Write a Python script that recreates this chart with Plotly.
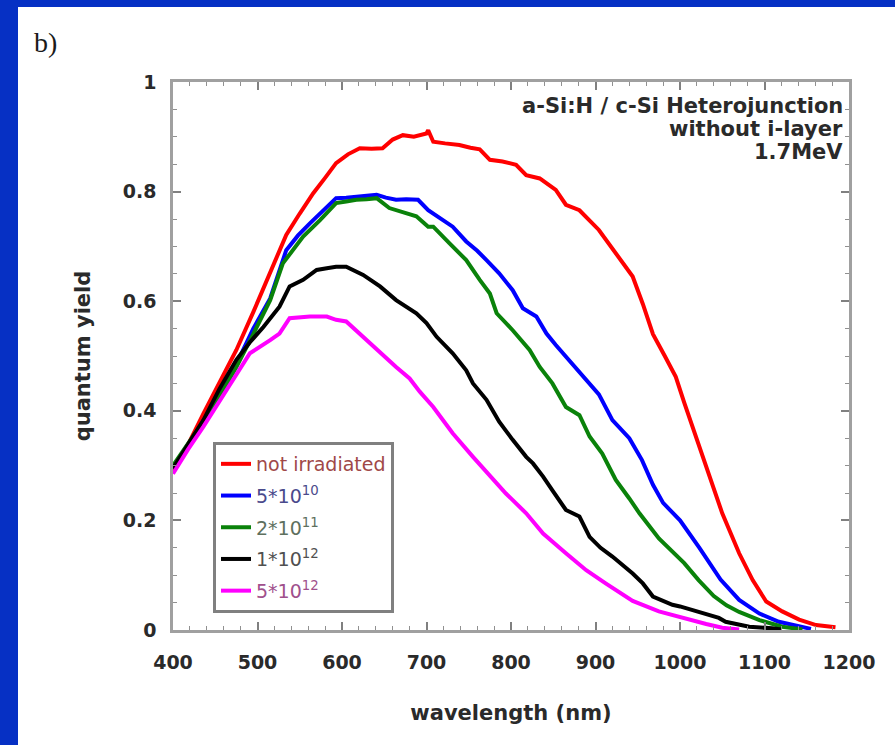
import plotly.graph_objects as go

# ---------------- data ----------------
wl_red = [400, 420, 436, 455, 475, 495, 515, 534, 550, 566, 580, 593, 607, 621, 635, 648, 660, 672, 685, 700,
          702, 708, 722, 739, 752, 763, 775, 790, 806, 818, 834, 853, 865, 881, 904, 924, 944, 956, 968, 982, 995,
          1005, 1015, 1031, 1050, 1070, 1086, 1102, 1121, 1141, 1161, 1184]
q_red = [0.29, 0.345, 0.395, 0.45, 0.511, 0.58, 0.651, 0.721, 0.76, 0.797, 0.825, 0.852, 0.868, 0.879, 0.878,
         0.879, 0.895, 0.903, 0.900, 0.906, 0.912, 0.891, 0.888, 0.885, 0.880, 0.877, 0.858, 0.855, 0.849, 0.830,
         0.824, 0.803, 0.776, 0.766, 0.730, 0.687, 0.645, 0.595, 0.540, 0.500, 0.462, 0.415, 0.371, 0.298, 0.213,
         0.140, 0.091, 0.052, 0.034, 0.019, 0.009, 0.005]

wl_blue = [400, 420, 440, 460, 475, 495, 515, 534, 548, 562, 578, 593, 605, 617, 630, 641, 652, 664, 676, 690,
           702, 708, 720, 731, 747, 760, 771, 786, 802, 814, 830, 842, 853, 865, 885, 904, 920, 940, 955, 968,
           980, 1000, 1023, 1048, 1070, 1094, 1117, 1141, 1155]
q_blue = [0.295, 0.34, 0.385, 0.44, 0.485, 0.55, 0.605, 0.693, 0.72, 0.742, 0.765, 0.788, 0.789, 0.791, 0.792,
          0.794, 0.789, 0.785, 0.786, 0.785, 0.766, 0.760, 0.748, 0.736, 0.709, 0.692, 0.675, 0.651, 0.620, 0.587,
          0.572, 0.541, 0.52, 0.499, 0.465, 0.430, 0.383, 0.350, 0.310, 0.265, 0.232, 0.20, 0.15, 0.092, 0.055,
          0.030, 0.015, 0.006, 0.002]

wl_green = [400, 420, 440, 460, 475, 495, 515, 530, 554, 574, 593, 605, 617, 629, 641, 656, 672, 688, 702, 708,
            727, 747, 763, 775, 783, 802, 822, 834, 849, 865, 881, 893, 908, 924, 940, 952, 975, 990, 1005, 1022,
            1040, 1055, 1070, 1094, 1121, 1145]
q_green = [0.30, 0.345, 0.39, 0.44, 0.48, 0.54, 0.602, 0.669, 0.718, 0.748, 0.779, 0.782, 0.785, 0.786, 0.788,
           0.770, 0.762, 0.755, 0.736, 0.736, 0.706, 0.675, 0.639, 0.614, 0.578, 0.547, 0.511, 0.480, 0.450, 0.407,
           0.392, 0.353, 0.322, 0.274, 0.240, 0.213, 0.167, 0.145, 0.122, 0.091, 0.062, 0.045, 0.033, 0.018, 0.006,
           0.001]

wl_black = [400, 418, 436, 455, 475, 491, 507, 526, 538, 554, 570, 582, 593, 605, 625, 645, 664, 688, 700, 712,
            731, 747, 755, 771, 786, 802, 818, 826, 838, 849, 865, 881, 893, 906, 920, 944, 956, 968, 991, 1000,
            1023, 1046, 1054, 1082, 1109, 1120]
q_black = [0.295, 0.34, 0.383, 0.44, 0.493, 0.525, 0.553, 0.590, 0.627, 0.639, 0.657, 0.660, 0.663, 0.663, 0.648,
           0.627, 0.602, 0.578, 0.560, 0.535, 0.505, 0.474, 0.450, 0.420, 0.380, 0.347, 0.316, 0.304, 0.280, 0.255,
           0.219, 0.207, 0.170, 0.150, 0.134, 0.103, 0.085, 0.061, 0.046, 0.043, 0.033, 0.022, 0.015, 0.006, 0.003,
           0.001]

wl_magenta = [400, 418, 436, 452, 467, 491, 515, 526, 538, 550, 562, 582, 593, 605, 625, 641, 664, 680, 692, 708,
              731, 755, 779, 794, 818, 838, 865, 889, 912, 944, 975, 1007, 1031, 1050, 1070]
q_magenta = [0.285, 0.33, 0.371, 0.41, 0.444, 0.505, 0.529, 0.541, 0.569, 0.571, 0.572, 0.572, 0.566, 0.563, 0.535,
             0.511, 0.480, 0.459, 0.435, 0.407, 0.359, 0.316, 0.274, 0.249, 0.213, 0.176, 0.140, 0.109, 0.085, 0.053,
             0.034, 0.020, 0.011, 0.004, 0.001]

series_names = ["not irradiated", "5*10<sup>10</sup>", "2*10<sup>11</sup>", "1*10<sup>12</sup>", "5*10<sup>12</sup>"]
x_ticks = [400, 500, 600, 700, 800, 900, 1000, 1100, 1200]
y_ticks = [0, 0.2, 0.4, 0.6, 0.8, 1]
y_tick_text = ["0", "0.2", "0.4", "0.6", "0.8", "1"]
note_lines = ["a-Si:H / c-Si Heterojunction", "without i-layer", "1.7MeV"]

# ---------------- styling ----------------
W, H = 895, 745
ML, MR, MT, MB = 173, 46, 82, 115
PW, PH = W - ML - MR, H - MT - MB

def px_x(p):
    return (p - ML) / PW

def px_y(p):
    return (H - MB - p) / PH

line_colors = ["#ff0000", "#0000ff", "#0a820a", "#000000", "#ff00ff"]
text_colors = ["#a04848", "#4a4a8c", "#5e705e", "#505050", "#a0508c"]
xs = [wl_red, wl_blue, wl_green, wl_black, wl_magenta]
ys = [q_red, q_blue, q_green, q_black, q_magenta]

fig = go.Figure()
for i in range(5):
    fig.add_trace(go.Scatter(
        x=xs[i], y=ys[i], mode="lines",
        line=dict(color=line_colors[i], width=4),
        name=f'<span style="color:{text_colors[i]}">{series_names[i]}</span>',
        legendgroup=f"g{i}",
    ))

axis_font = dict(family="DejaVu Sans", size=19, color="#2a2a2a", weight="bold")
title_font = dict(family="DejaVu Sans", size=21, color="#2a2a2a", weight="bold")

fig.update_xaxes(
    range=[400, 1200], tickvals=x_ticks, ticks="inside", ticklen=8, tickwidth=1.5,
    tickcolor="#808080", showline=True, linecolor="#a0a0a0", linewidth=2.5,
    mirror="allticks", showgrid=False, zeroline=False, tickfont=axis_font,
    ticklabelstandoff=13,
    minor=dict(ticks="inside", ticklen=4, dtick=20, tickcolor="#909090", tickwidth=1.2, showgrid=False),
    title=dict(text="wavelength (nm)", font=title_font, standoff=34),
)
fig.update_yaxes(
    range=[0, 1], tickvals=y_ticks, ticktext=y_tick_text, ticks="inside", ticklen=8, tickwidth=1.5,
    tickcolor="#808080", showline=True, linecolor="#a0a0a0", linewidth=2.5,
    mirror="allticks", showgrid=False, zeroline=False, tickfont=axis_font,
    ticklabelstandoff=10,
    minor=dict(ticks="inside", ticklen=4, dtick=0.05, tickcolor="#909090", tickwidth=1.2, showgrid=False),
    title=dict(text="quantum yield", font=title_font, standoff=27),
)

# blue slide frame (left and top strips)
blue = "#0630c4"
fig.add_shape(type="rect", xref="paper", yref="paper", x0=px_x(0), x1=px_x(18), y0=px_y(H), y1=px_y(0),
              fillcolor=blue, line_width=0, layer="below")
fig.add_shape(type="rect", xref="paper", yref="paper", x0=px_x(0), x1=px_x(W), y0=px_y(7), y1=px_y(0),
              fillcolor=blue, line_width=0, layer="below")

# panel label
fig.add_annotation(text="b)", xref="paper", yref="paper", x=px_x(32), y=px_y(42), xanchor="left",
                   yanchor="middle", showarrow=False,
                   font=dict(family="Liberation Serif", size=28, color="#1a1a1a"))

# note in the upper right
note_y = [106, 129, 152]
for t, yy in zip(note_lines, note_y):
    fig.add_annotation(text=t, xref="paper", yref="paper", x=px_x(845), y=px_y(yy), xanchor="right",
                       yanchor="middle", showarrow=False,
                       font=dict(family="DejaVu Sans", size=21, color="#2a2a2a", weight="bold"))

fig.update_layout(
    width=W, height=H,
    margin=dict(l=ML, r=MR, t=MT, b=MB, pad=0),
    paper_bgcolor="white", plot_bgcolor="white",
    showlegend=True,
    legend=dict(x=px_x(213), y=px_y(442), xanchor="left", yanchor="top",
                bgcolor="white", bordercolor="#808080", borderwidth=3,
                font=dict(family="DejaVu Sans", size=19, color="#505050"),
                tracegroupgap=4, itemwidth=30,
                entrywidth=185, entrywidthmode="pixels"),
)

fig.write_html("out.html")
